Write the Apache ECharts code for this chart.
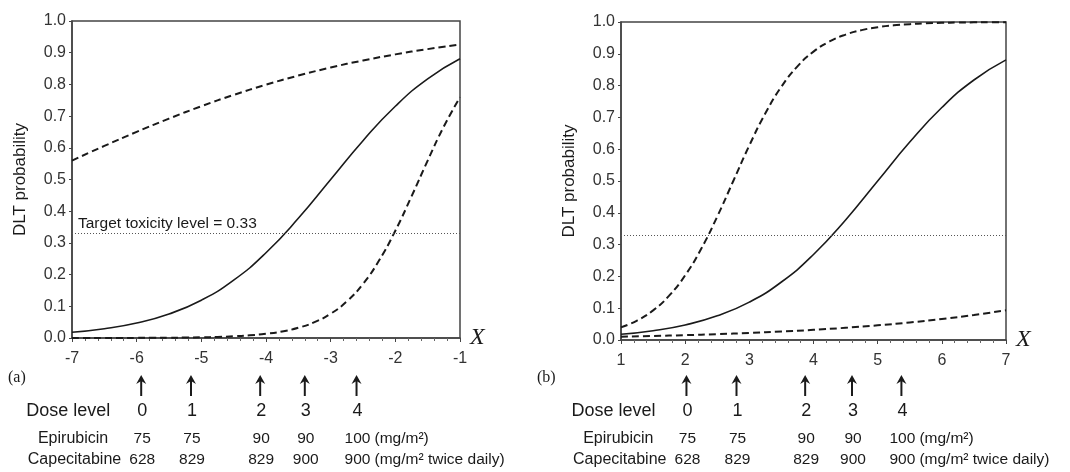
<!DOCTYPE html>
<html>
<head>
<meta charset="utf-8">
<script src="https://cdn.jsdelivr.net/npm/echarts@6/dist/echarts.min.js"></script>
<style>
html, body { margin: 0; padding: 0; background: #fff; }
#main { width: 1070px; height: 472px; }
</style>
</head>
<body>
<div id="main"></div>
<script>
// panel (a): x from -7 to -1
var xHalfA = [-7, -6.5, -6, -5.5, -5, -4.5, -4, -3.5, -3, -2.5, -2, -1.5, -1];
var xQuarterA = [-7, -6.75, -6.5, -6.25, -6, -5.75, -5.5, -5.25, -5, -4.75, -4.5, -4.25, -4,
    -3.75, -3.5, -3.25, -3, -2.75, -2.5, -2.25, -2, -1.75, -1.5, -1.25, -1];
var solidA = [0.018, 0.0293, 0.0474, 0.0759, 0.1192, 0.1824, 0.2689, 0.3775, 0.5, 0.6225, 0.7311, 0.8176, 0.8808];
var upperA = [0.5597, 0.6059, 0.6502, 0.6921, 0.7311, 0.7668, 0.799, 0.8278, 0.8532, 0.8754, 0.8947, 0.9113, 0.9255];
var lowerA = [0.0001, 0.0001, 0.0001, 0.0002, 0.0004, 0.0006, 0.0009, 0.0014, 0.0022, 0.0034, 0.0054, 0.0085, 0.0133,
    0.0207, 0.0323, 0.05, 0.0766, 0.1156, 0.1708, 0.2451, 0.3385, 0.4465, 0.5597, 0.6671, 0.7595];

// panel (b): x from 1 to 7
var xHalfB = [1, 1.5, 2, 2.5, 3, 3.5, 4, 4.5, 5, 5.5, 6, 6.5, 7];
var xQuarterB = [1, 1.25, 1.5, 1.75, 2, 2.25, 2.5, 2.75, 3, 3.25, 3.5, 3.75, 4,
    4.25, 4.5, 4.75, 5, 5.25, 5.5, 5.75, 6, 6.25, 6.5, 6.75, 7];
var solidB = [0.018, 0.0293, 0.0474, 0.0759, 0.1192, 0.1824, 0.2689, 0.3775, 0.5, 0.6225, 0.7311, 0.8176, 0.8808];
var upperB = [0.0397, 0.0612, 0.0932, 0.1394, 0.2034, 0.287, 0.3882, 0.5, 0.6118, 0.713, 0.7966, 0.8606, 0.9068,
    0.9388, 0.9603, 0.9744, 0.9836, 0.9895, 0.9933, 0.9958, 0.9973, 0.9983, 0.9989, 0.9993, 0.9996];
var lowerB = [0.0105, 0.0126, 0.0152, 0.0183, 0.0221, 0.0266, 0.032, 0.0384, 0.0461, 0.0552, 0.066, 0.0787, 0.0936];

var targetLevel = 0.33;

// dose levels and where they sit on each x axis
var doseLevels = ['0', '1', '2', '3', '4'];
var doseXA = [-5.93, -5.16, -4.09, -3.4, -2.6];
var doseXB = [2.02, 2.8, 3.87, 4.6, 5.37];
var epirubicin = ['75', '75', '90', '90', '100'];
var capecitabine = ['628', '829', '829', '900', '900'];

var FONT = 'Liberation Sans, Arial, sans-serif';
var SERIF = 'Liberation Serif, Times New Roman, serif';
var INK = '#1a1a1a';

function pairs(xs, ys) {
    var out = [];
    for (var i = 0; i < xs.length; i++) {
        out.push([xs[i], ys[i]]);
    }
    return out;
}

function xAxisFor(grid, min, max) {
    return {
        type: 'value', gridIndex: grid, min: min, max: max, interval: 1,
        name: 'X', nameLocation: 'end', nameGap: 10,
        nameTextStyle: {fontFamily: SERIF, fontStyle: 'italic',
            fontSize: 24, color: INK, verticalAlign: 'middle', padding: [14, 0, 0, 0]},
        axisLine: {show: true, lineStyle: {color: '#444', width: 1.5}},
        axisTick: {show: true, length: 4, lineStyle: {color: '#444'}},
        minorTick: {show: true, splitNumber: 5, length: 3, lineStyle: {color: '#666'}},
        axisLabel: {color: '#333', fontSize: 16, fontFamily: FONT, margin: 13},
        splitLine: {show: false}
    };
}

function yAxisFor(grid) {
    return {
        type: 'value', gridIndex: grid, min: 0, max: 1, interval: 0.1,
        name: 'DLT probability', nameLocation: 'middle', nameRotate: 90, nameGap: 43,
        nameTextStyle: {fontSize: 17, fontFamily: FONT, color: INK},
        axisLine: {show: true, lineStyle: {color: '#444', width: 1.5}},
        axisTick: {show: true, length: 3, lineStyle: {color: '#444'}},
        axisLabel: {color: '#333', fontSize: 16, fontFamily: FONT, margin: 6,
            formatter: function (v) { return v.toFixed(1); }},
        splitLine: {show: false}
    };
}

function curve(grid, xs, ys, dashed) {
    return {
        type: 'line', xAxisIndex: grid, yAxisIndex: grid,
        data: pairs(xs, ys), showSymbol: false, symbol: 'none',
        smooth: true,
        lineStyle: {color: INK, width: dashed ? 2 : 1.6, type: dashed ? [7, 4] : 'solid'},
        z: 3
    };
}

function targetLine(withLabel) {
    return {
        silent: true, symbol: 'none',
        lineStyle: {color: '#555', width: 1, type: [1, 2]},
        label: withLabel ? {
            show: true, position: 'insideStartTop', distance: [6, 2],
            formatter: 'Target toxicity level = 0.33',
            fontSize: 15.5, fontFamily: FONT, color: INK
        } : {show: false},
        data: [{yAxis: targetLevel}]
    };
}

var chart = echarts.init(document.getElementById('main'), null, {renderer: 'canvas'});

var solidSeriesA = curve(0, xHalfA, solidA, false);
solidSeriesA.markLine = targetLine(true);
var solidSeriesB = curve(1, xHalfB, solidB, false);
solidSeriesB.markLine = targetLine(false);

var option = {
    animation: false,
    backgroundColor: '#fff',
    grid: [
        {left: 72, width: 388, top: 21, height: 317, show: true, borderColor: '#444', borderWidth: 1.5},
        {left: 621, width: 385, top: 22, height: 318, show: true, borderColor: '#444', borderWidth: 1.5}
    ],
    xAxis: [xAxisFor(0, -7, -1), xAxisFor(1, 1, 7)],
    yAxis: [yAxisFor(0), yAxisFor(1)],
    series: [
        solidSeriesA,
        curve(0, xHalfA, upperA, true),
        curve(0, xQuarterA, lowerA, true),
        solidSeriesB,
        curve(1, xQuarterB, upperB, true),
        curve(1, xHalfB, lowerB, true)
    ]
};
chart.setOption(option);

// arrows and dose table under each panel, placed through the x axis scale
var arrowTop = 375, arrowBottom = 396;
var doseRowY = 411, epiRowY = 439, capRowY = 460;

function txt(x, y, s, size, align, family) {
    return {
        type: 'text', x: x, y: y, silent: true,
        style: {text: s, fontSize: size, fontFamily: family || FONT, fill: INK,
            align: align || 'center', verticalAlign: 'middle'}
    };
}

var elements = [];
[[0, doseXA, '(a)', 8], [1, doseXB, '(b)', 537]].forEach(function (p) {
    var grid = p[0];
    var xs = p[1].map(function (v) {
        return chart.convertToPixel({gridIndex: grid}, [v, 0])[0];
    });
    for (var i = 0; i < xs.length; i++) {
        elements.push({
            type: 'line', silent: true,
            shape: {x1: xs[i], y1: arrowTop + 4, x2: xs[i], y2: arrowBottom},
            style: {stroke: INK, lineWidth: 2}
        });
        elements.push({
            type: 'polygon', silent: true,
            shape: {points: [[xs[i], arrowTop], [xs[i] - 5, arrowTop + 9], [xs[i], arrowTop + 6], [xs[i] + 5, arrowTop + 9]]},
            style: {fill: INK}
        });
        elements.push(txt(xs[i] + 1, doseRowY, doseLevels[i], 18));
        elements.push(txt(xs[i] + 1, epiRowY, epirubicin[i], 15.5));
        elements.push(txt(xs[i] + 1, capRowY, capecitabine[i], 15.5));
    }
    elements.push(txt(xs[0] - 31, doseRowY, 'Dose level', 18, 'right'));
    elements.push(txt(xs[0] - 33, epiRowY, 'Epirubicin', 16, 'right'));
    elements.push(txt(xs[0] - 20, capRowY, 'Capecitabine', 16, 'right'));
    elements.push(txt(xs[4] + 18, epiRowY, '(mg/m²)', 15.5, 'left'));
    elements.push(txt(xs[4] + 18, capRowY, '(mg/m² twice daily)', 15.5, 'left'));
    elements.push(txt(p[3], 378, p[2], 16, 'left', SERIF));
});

chart.setOption({graphic: {elements: elements}});
</script>
</body>
</html>
